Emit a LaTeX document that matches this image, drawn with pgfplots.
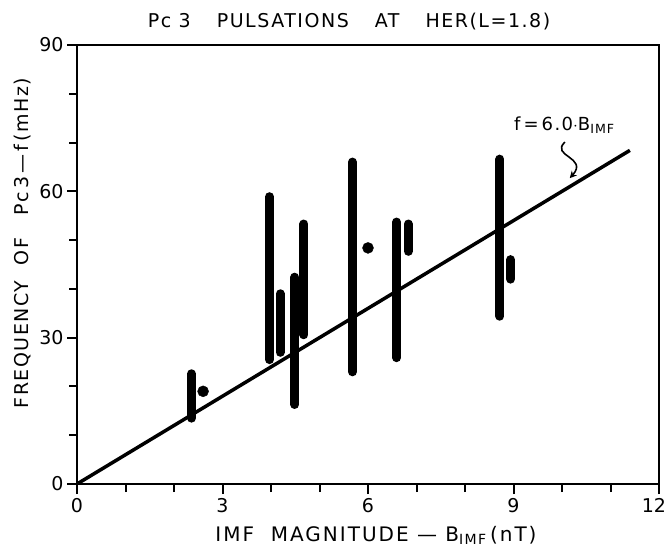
\documentclass[border=0pt]{standalone}
\usepackage{fontspec}
\setmainfont{DejaVu Sans}
\newfontfamily\lblfont[LetterSpace=8]{DejaVu Sans}
\newfontfamily\xlblfont[LetterSpace=10]{DejaVu Sans}
\usepackage{pgfplots}
\pgfplotsset{compat=1.18}
\usetikzlibrary{arrows.meta}
\begin{document}
\begin{tikzpicture}
\path[use as bounding box] (-77pt,-63pt) rectangle (592pt,484pt);
\begin{axis}[
  at={(0pt,0pt)}, anchor=south west,
  scale only axis, width=582pt, height=439pt,
  xmin=0, xmax=12, ymin=0, ymax=90,
  xtick={0,3,6,9,12}, ytick={0,30,60,90},
  xticklabels={0,3,6,9,{\makebox[14pt][r]{12}}},
  minor xtick={1,2,4,5,7,8,10,11},
  minor ytick={10,20,40,50,70,80},
  xtick pos=bottom, ytick pos=left,
  tick align=outside,
  major tick length=10pt, minor tick length=8pt,
  every tick/.style={black, line width=2pt},
  axis line style={line width=2.5pt},
  /pgf/number format/assume math mode=true,
  ticklabel style={font=\fontsize{19}{21}\selectfont},
  xticklabel style={yshift=-1pt},
  yticklabel style={xshift=0pt},
]
% fitted line f = 6.0 B
\addplot[black, line width=3.5pt] coordinates {(0,0) (11.4,68.4)};
% observed frequency ranges
\addplot[black, line width=9pt, line cap=round] coordinates {(2.36,13.5) (2.36,22.6)};
\addplot[black, line width=9pt, line cap=round] coordinates {(3.97,25.5) (3.97,58.9)};
\addplot[black, line width=9pt, line cap=round] coordinates {(4.19,27.0) (4.19,39.0)};
\addplot[black, line width=9pt, line cap=round] coordinates {(4.49,16.3) (4.49,42.4)};
\addplot[black, line width=9pt, line cap=round] coordinates {(4.68,30.6) (4.68,53.3)};
\addplot[black, line width=9pt, line cap=round] coordinates {(5.68,23.0) (5.68,66.0)};
\addplot[black, line width=9pt, line cap=round] coordinates {(6.59,25.9) (6.59,53.7)};
\addplot[black, line width=9pt, line cap=round] coordinates {(6.83,47.7) (6.83,53.3)};
\addplot[black, line width=9pt, line cap=round] coordinates {(8.72,34.4) (8.72,66.6)};
\addplot[black, line width=9pt, line cap=round] coordinates {(8.94,42.0) (8.94,46.0)};
% single observations
\addplot[only marks, mark=*, mark size=5.5pt, black] coordinates {(2.6,19.0) (6.0,48.4)};
% annotation
\node[font=\fontsize{18}{20}\lblfont] at (axis cs:10.05,73.6) {f\,=\,6.0$\cdot$B\textsubscript{IMF}};
\draw[black, line width=1.6pt, -{Stealth[length=7pt,width=7pt]}]
  (axis cs:10.06,70.1) .. controls (axis cs:9.75,67.2) and (axis cs:10.55,67.0) .. (axis cs:10.16,62.7);
\end{axis}
\node[anchor=base, font=\fontsize{19}{21}\lblfont] at (272pt,456pt)
  {Pc 3\hspace{26pt}PULSATIONS\hspace{26pt}AT\hspace{26pt}HER(L=1.8)};
\node[rotate=90, font=\fontsize{19}{21}\lblfont] at (-54pt,241pt)
  {FREQUENCY\ \ OF\ \ \ Pc\,3\,\textemdash\,f\,(mHz)};
\node[anchor=base, font=\fontsize{20}{22}\xlblfont] at (299pt,-57pt)
  {IMF\ \ MAGNITUDE\ \textemdash\ B\textsubscript{IMF}\,(nT)};
\end{tikzpicture}
\end{document}
